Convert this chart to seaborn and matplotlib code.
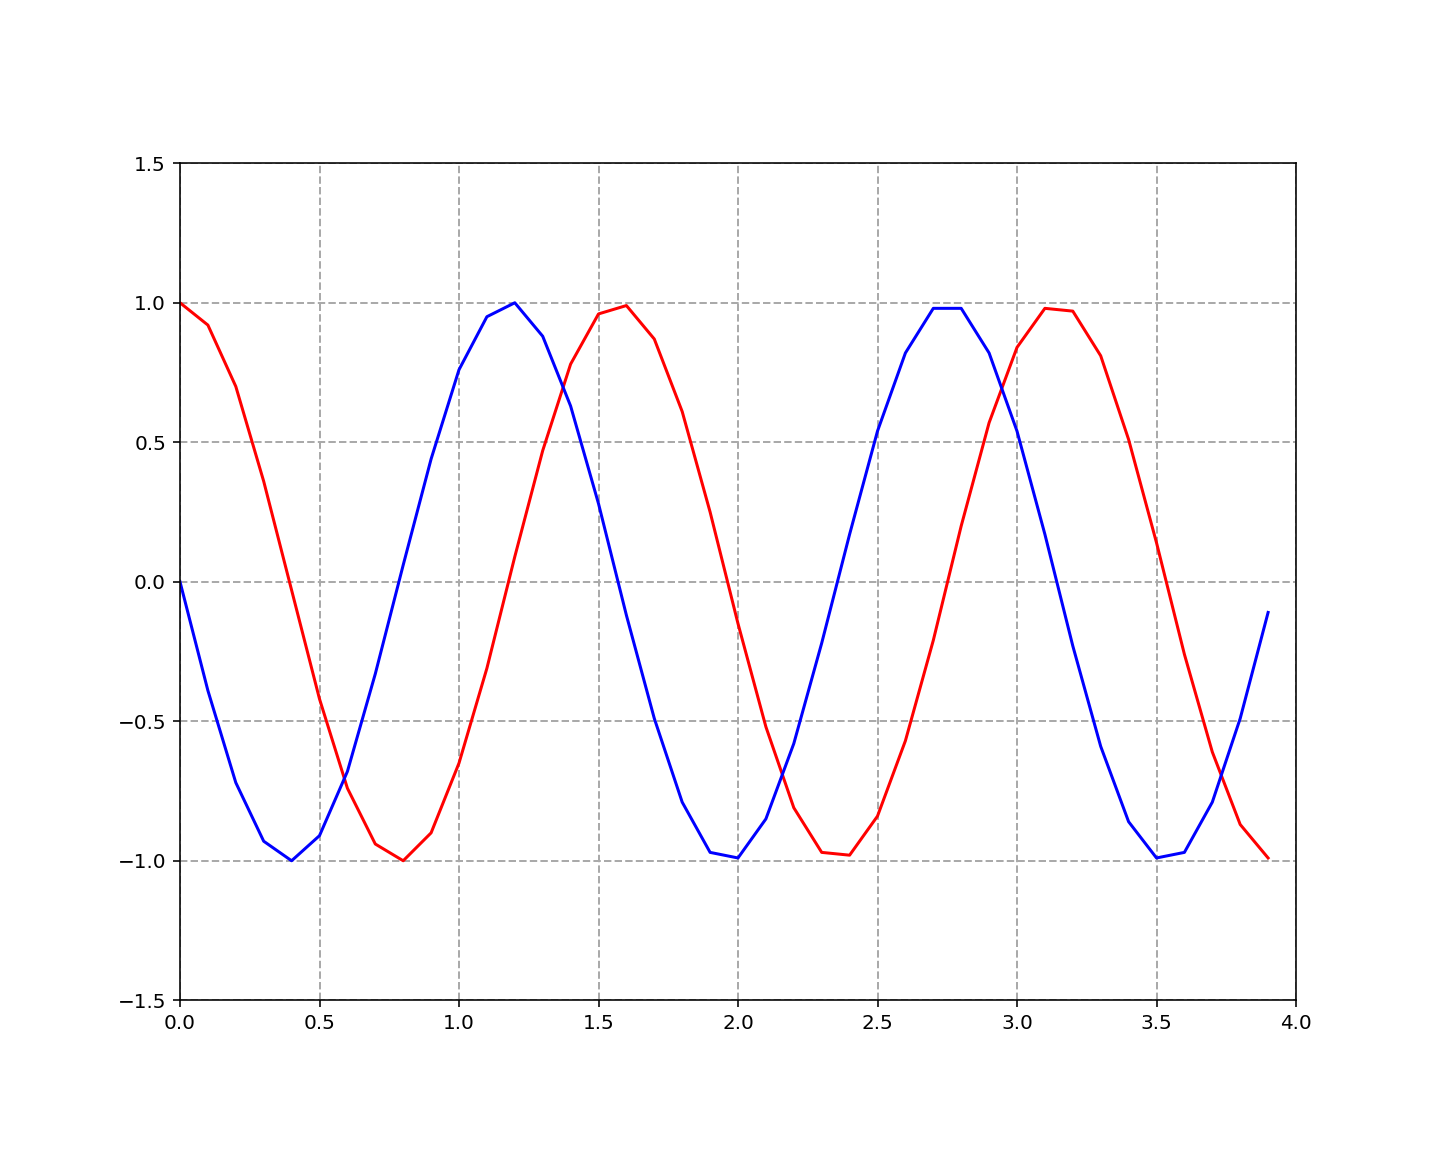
import numpy as np
import pandas as pd
import matplotlib
matplotlib.use('Agg')
import matplotlib.pyplot as plt
import seaborn as sns

# values
x = [0.0, 0.1, 0.2, 0.3, 0.4, 0.5, 0.6, 0.7, 0.8, 0.9,
     1.0, 1.1, 1.2, 1.3, 1.4, 1.5, 1.6, 1.7, 1.8, 1.9,
     2.0, 2.1, 2.2, 2.3, 2.4, 2.5, 2.6, 2.7, 2.8, 2.9,
     3.0, 3.1, 3.2, 3.3, 3.4, 3.5, 3.6, 3.7, 3.8, 3.9]
red = [1.00, 0.92, 0.70, 0.36, -0.03, -0.42, -0.74, -0.94, -1.00, -0.90,
       -0.65, -0.31, 0.09, 0.47, 0.78, 0.96, 0.99, 0.87, 0.61, 0.25,
       -0.15, -0.52, -0.81, -0.97, -0.98, -0.84, -0.57, -0.21, 0.20, 0.57,
       0.84, 0.98, 0.97, 0.81, 0.51, 0.14, -0.26, -0.61, -0.87, -0.99]
blue = [0.00, -0.39, -0.72, -0.93, -1.00, -0.91, -0.68, -0.33, 0.06, 0.44,
        0.76, 0.95, 1.00, 0.88, 0.63, 0.28, -0.12, -0.49, -0.79, -0.97,
        -0.99, -0.85, -0.58, -0.22, 0.17, 0.54, 0.82, 0.98, 0.98, 0.82,
        0.54, 0.17, -0.23, -0.59, -0.86, -0.99, -0.97, -0.79, -0.49, -0.11]

df = pd.DataFrame({'x': x, 'red': red, 'blue': blue})

fig, ax = plt.subplots(figsize=(10, 8), dpi=144)
sns.lineplot(data=df, x='x', y='red', color='red', linewidth=1.5, ax=ax)
sns.lineplot(data=df, x='x', y='blue', color='blue', linewidth=1.5, ax=ax)

ax.set_xlim(0, 4)
ax.set_ylim(-1.5, 1.5)
ax.set_aspect('equal')
ax.set_xlabel('')
ax.set_ylabel('')
ax.grid(True, linestyle='--', color='#aaaaaa', linewidth=1)

fig.savefig('out.png', dpi=144)
